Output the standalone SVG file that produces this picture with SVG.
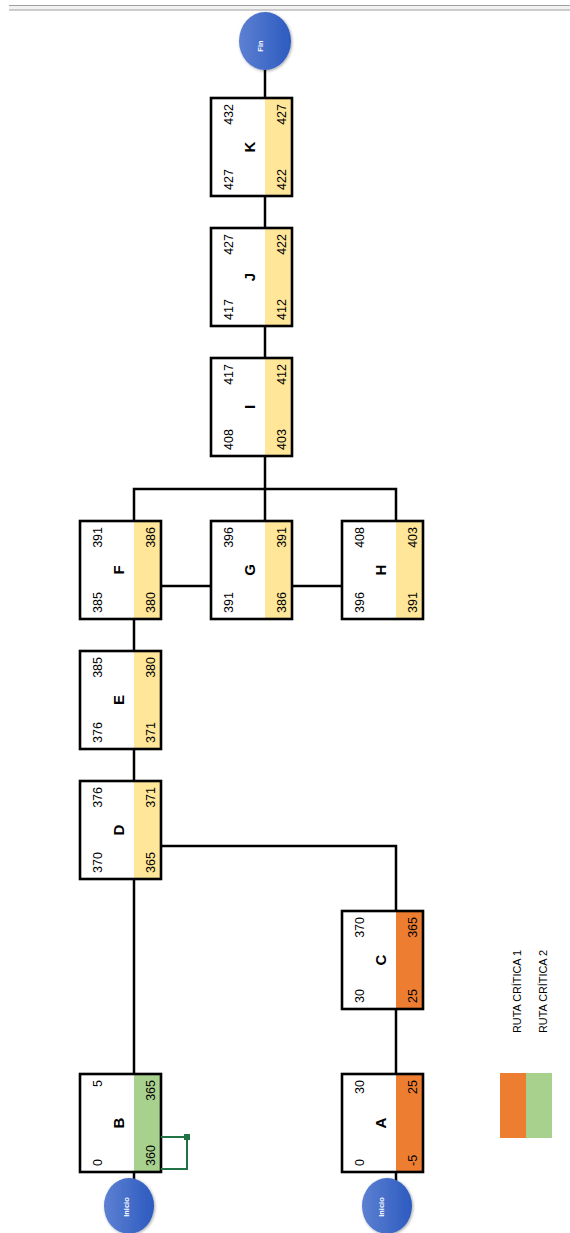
<svg xmlns="http://www.w3.org/2000/svg" width="570" height="1233" viewBox="0 0 570 1233">
<style>
.box{fill:none;stroke:#000;stroke-width:2.6}
.bg{fill:#fff}
.y{fill:#FFE699}
.o{fill:#ED7D31}
.g{fill:#A9D18E}
.n{font-family:"Liberation Sans",Arial,sans-serif;font-size:12.5px;fill:#000}
.e{text-anchor:end}
.l{font-family:"Liberation Sans",Arial,sans-serif;font-size:15px;font-weight:bold;fill:#000;text-anchor:middle}
.c{stroke:#000;stroke-width:2.5;fill:none}
.circ{fill:url(#bl);filter:url(#sh)}
.ct{font-family:"Liberation Sans",Arial,sans-serif;font-size:7.5px;font-weight:bold;fill:#fff;text-anchor:middle}
.lg{font-family:"Liberation Sans",Arial,sans-serif;font-size:11px;fill:#000}
</style>
<defs>
<linearGradient id="bl" x1="0" y1="0" x2="1" y2="0">
<stop offset="0" stop-color="#5d80d2"/>
<stop offset="1" stop-color="#2c5bbf"/>
</linearGradient>
<filter id="sh" x="-30%" y="-30%" width="160%" height="160%">
<feDropShadow dx="1" dy="1" stdDeviation="1.5" flood-color="#000" flood-opacity="0.35"/>
</filter>
</defs>
<rect x="0" y="0" width="570" height="1233" fill="#fff"/>
<g id="topbar">
<rect x="9" y="5" width="561" height="5" fill="#f2f2f2"/>
<line x1="9" y1="5.5" x2="570" y2="5.5" stroke="#a0a0a0" stroke-width="1"/>
<line x1="9" y1="10" x2="570" y2="10" stroke="#a0a0a0" stroke-width="1"/>
</g>
<g id="connectors">
<line class="c" x1="265" y1="68" x2="265" y2="98"/>
<line class="c" x1="265" y1="196" x2="265" y2="228"/>
<line class="c" x1="265" y1="326" x2="265" y2="358"/>
<line class="c" x1="265" y1="456" x2="265" y2="521"/>
<polyline class="c" points="134,521 134,489 396,489 396,521"/>
<line class="c" x1="161" y1="586" x2="211" y2="586"/>
<line class="c" x1="292" y1="586" x2="342" y2="586"/>
<line class="c" x1="134" y1="619" x2="134" y2="651"/>
<line class="c" x1="134" y1="749" x2="134" y2="781"/>
<line class="c" x1="134" y1="879" x2="134" y2="1074"/>
<polyline class="c" points="161,846 396,846 396,911"/>
<line class="c" x1="396" y1="1009" x2="396" y2="1074"/>
<line class="c" x1="134" y1="1172" x2="134" y2="1182"/>
<line class="c" x1="396" y1="1172" x2="396" y2="1182"/>
</g>
<g id="fin">
<ellipse class="circ" cx="265" cy="41" rx="26" ry="29"/>
<text class="ct" transform="translate(262.5,46) rotate(-90)">Fin</text>
</g>
<g id="inicioB">
<ellipse class="circ" cx="129" cy="1206" rx="25" ry="28"/>
<text class="ct" transform="translate(128.5,1207) rotate(-90)">Inicio</text>
</g>
<g id="inicioA">
<ellipse class="circ" cx="387" cy="1206" rx="25" ry="28"/>
<text class="ct" transform="translate(383.5,1207) rotate(-90)">Inicio</text>
</g>
<g id="K" transform="translate(211,196) rotate(-90)">
<rect class="bg" x="0" y="0" width="98" height="81"/><rect class="y" x="0" y="54" width="98" height="27"/><rect class="box" x="0" y="0" width="98" height="81"/>
<text class="n" x="6" y="22">427</text><text class="n e" x="92" y="22">432</text>
<text class="l" x="49" y="44">K</text>
<text class="n" x="6" y="75">422</text><text class="n e" x="92" y="75">427</text>
</g>
<g id="J" transform="translate(211,326) rotate(-90)">
<rect class="bg" x="0" y="0" width="98" height="81"/><rect class="y" x="0" y="54" width="98" height="27"/><rect class="box" x="0" y="0" width="98" height="81"/>
<text class="n" x="6" y="22">417</text><text class="n e" x="92" y="22">427</text>
<text class="l" x="49" y="44">J</text>
<text class="n" x="6" y="75">412</text><text class="n e" x="92" y="75">422</text>
</g>
<g id="I" transform="translate(211,456) rotate(-90)">
<rect class="bg" x="0" y="0" width="98" height="81"/><rect class="y" x="0" y="54" width="98" height="27"/><rect class="box" x="0" y="0" width="98" height="81"/>
<text class="n" x="6" y="22">408</text><text class="n e" x="92" y="22">417</text>
<text class="l" x="49" y="44">I</text>
<text class="n" x="6" y="75">403</text><text class="n e" x="92" y="75">412</text>
</g>
<g id="F" transform="translate(80,619) rotate(-90)">
<rect class="bg" x="0" y="0" width="98" height="81"/><rect class="y" x="0" y="54" width="98" height="27"/><rect class="box" x="0" y="0" width="98" height="81"/>
<text class="n" x="6" y="22">385</text><text class="n e" x="92" y="22">391</text>
<text class="l" x="49" y="44">F</text>
<text class="n" x="6" y="75">380</text><text class="n e" x="92" y="75">386</text>
</g>
<g id="G" transform="translate(211,619) rotate(-90)">
<rect class="bg" x="0" y="0" width="98" height="81"/><rect class="y" x="0" y="54" width="98" height="27"/><rect class="box" x="0" y="0" width="98" height="81"/>
<text class="n" x="6" y="22">391</text><text class="n e" x="92" y="22">396</text>
<text class="l" x="49" y="44">G</text>
<text class="n" x="6" y="75">386</text><text class="n e" x="92" y="75">391</text>
</g>
<g id="H" transform="translate(342,619) rotate(-90)">
<rect class="bg" x="0" y="0" width="98" height="81"/><rect class="y" x="0" y="54" width="98" height="27"/><rect class="box" x="0" y="0" width="98" height="81"/>
<text class="n" x="6" y="22">396</text><text class="n e" x="92" y="22">408</text>
<text class="l" x="49" y="44">H</text>
<text class="n" x="6" y="75">391</text><text class="n e" x="92" y="75">403</text>
</g>
<g id="E" transform="translate(80,749) rotate(-90)">
<rect class="bg" x="0" y="0" width="98" height="81"/><rect class="y" x="0" y="54" width="98" height="27"/><rect class="box" x="0" y="0" width="98" height="81"/>
<text class="n" x="6" y="22">376</text><text class="n e" x="92" y="22">385</text>
<text class="l" x="49" y="44">E</text>
<text class="n" x="6" y="75">371</text><text class="n e" x="92" y="75">380</text>
</g>
<g id="D" transform="translate(80,879) rotate(-90)">
<rect class="bg" x="0" y="0" width="98" height="81"/><rect class="y" x="0" y="54" width="98" height="27"/><rect class="box" x="0" y="0" width="98" height="81"/>
<text class="n" x="6" y="22">370</text><text class="n e" x="92" y="22">376</text>
<text class="l" x="49" y="44">D</text>
<text class="n" x="6" y="75">365</text><text class="n e" x="92" y="75">371</text>
</g>
<g id="C" transform="translate(342,1009) rotate(-90)">
<rect class="bg" x="0" y="0" width="98" height="81"/><rect class="o" x="0" y="54" width="98" height="27"/><rect class="box" x="0" y="0" width="98" height="81"/>
<text class="n" x="6" y="22">30</text><text class="n e" x="92" y="22">370</text>
<text class="l" x="49" y="44">C</text>
<text class="n" x="6" y="75">25</text><text class="n e" x="92" y="75">365</text>
</g>
<g id="B" transform="translate(80,1172) rotate(-90)">
<rect class="bg" x="0" y="0" width="98" height="81"/><rect class="g" x="0" y="54" width="98" height="27"/><rect class="box" x="0" y="0" width="98" height="81"/>
<text class="n" x="6" y="22">0</text><text class="n e" x="92" y="22">5</text>
<text class="l" x="49" y="44">B</text>
<text class="n" x="6" y="75">360</text><text class="n e" x="92" y="75">365</text>
</g>
<g id="A" transform="translate(342,1172) rotate(-90)">
<rect class="bg" x="0" y="0" width="98" height="81"/><rect class="o" x="0" y="54" width="98" height="27"/><rect class="box" x="0" y="0" width="98" height="81"/>
<text class="n" x="6" y="22">0</text><text class="n e" x="92" y="22">30</text>
<text class="l" x="49" y="44">A</text>
<text class="n" x="6" y="75">-5</text><text class="n e" x="92" y="75">25</text>
</g>
<g id="selection">
<path d="M161,1137 H187 V1169 H161" fill="none" stroke="#217346" stroke-width="2"/>
<rect x="184" y="1134" width="6" height="6" fill="#217346"/>
</g>
<g id="legend">
<rect class="o" x="500" y="1073" width="26" height="65"/>
<rect class="g" x="526" y="1073" width="26" height="65"/>
<text class="lg" transform="translate(521,1033) rotate(-90)" textLength="83" lengthAdjust="spacingAndGlyphs">RUTA CRÍTICA 1</text>
<text class="lg" transform="translate(547,1033) rotate(-90)" textLength="83" lengthAdjust="spacingAndGlyphs">RUTA CRÍTICA 2</text>
</g>
</svg>
